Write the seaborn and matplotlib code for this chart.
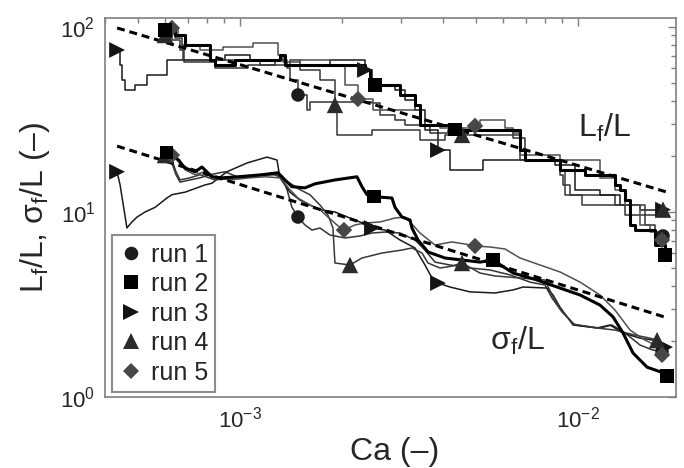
import numpy as np
import matplotlib
matplotlib.use("Agg")
import matplotlib.pyplot as plt
import seaborn as sns
from matplotlib.lines import Line2D
from matplotlib.ticker import LogLocator, LogFormatterSciNotation, NullFormatter

# ---------------------------------------------------------------------------
# Front length L_f/L (stepwise) versus capillary number, Ca values in units of 1e-3
# ---------------------------------------------------------------------------
run1_lf_ca = [0.608, 0.642, 0.674, 0.683, 0.844, 1.056, 1.269, 1.378, 1.406, 1.485,
              1.578, 1.611, 2.458, 2.596, 2.875, 3.078, 3.650, 4.126, 6.424, 6.972,
              8.850, 9.032, 9.474, 12.87, 13.78, 15.79, 16.91, 17.85]
run1_lf = [92.8, 87.2, 79.9, 64.7, 60.0, 62.3, 66.3, 60.0, 51.7, 42.9,
           35.6, 39.3, 38.8, 33.4, 31.4, 29.5, 26.7, 27.8, 25.1, 19.1,
           15.9, 14.0, 12.4, 10.9, 9.63, 8.51, 7.06, 7.42]

run2_lf_ca = [0.600, 0.642, 0.688, 0.815, 0.844, 0.967, 1.269, 1.313, 1.359, 2.265,
              2.344, 2.425, 2.509, 2.875, 2.975, 3.185, 3.295, 3.409, 4.327, 6.513,
              6.739, 6.972, 8.554, 8.850, 10.49, 12.87, 13.32, 13.78, 14.26, 14.75,
              15.79, 16.91, 18.10]
run2_lf = [96.3, 90.5, 79.9, 66.3, 62.3, 66.3, 66.3, 70.6, 62.3, 62.3,
           58.6, 51.7, 48.6, 48.6, 42.9, 42.9, 37.9, 29.5, 27.8, 27.8,
           21.6, 19.1, 19.1, 16.9, 15.9, 14.0, 13.2, 11.6, 8.51, 7.99,
           7.99, 6.63, 5.86]

run3_lf_ca = [0.433, 0.442, 0.448, 0.457, 0.489, 0.531, 0.608, 0.815, 0.903, 1.071,
              1.359, 1.846, 2.265, 2.344, 2.458, 2.875, 3.078, 3.295, 3.527, 3.854,
              4.182, 5.237, 8.554, 9.803, 11.62, 13.32, 15.26, 17.85]
run3_lf = [75.1, 62.3, 51.7, 45.7, 48.6, 55.0, 66.3, 66.3, 70.6, 66.3,
           62.3, 66.3, 66.3, 58.6, 48.6, 45.7, 40.3, 35.6, 27.8, 21.6,
           16.9, 19.1, 17.9, 13.2, 12.4, 10.9, 10.3, 10.3]

run4_lf_ca = [0.600, 0.629, 0.665, 0.678, 1.146, 1.406, 1.505, 1.725, 1.910, 1.936,
              2.458, 3.409, 4.042, 4.538, 6.739, 8.850, 9.157, 10.28, 15.79, 17.85]
run4_lf = [90.5, 85.1, 75.1, 66.3, 62.3, 66.3, 58.6, 51.7, 37.9, 26.1,
           27.8, 24.5, 26.1, 26.1, 19.1, 16.9, 12.4, 10.9, 9.63, 10.3]

run5_lf_ca = [0.629, 0.656, 0.692, 0.762, 0.891, 1.093, 1.296, 1.340, 1.505, 1.846,
              2.045, 2.234, 2.475, 3.409, 3.907, 4.959, 5.131, 6.084, 6.424, 6.739,
              8.850, 11.62, 12.87, 13.78, 15.26, 16.34, 17.73]
run5_lf = [98.8, 90.5, 79.9, 75.1, 78.0, 81.9, 70.6, 64.7, 66.3, 62.3,
           48.6, 40.8, 35.6, 29.2, 28.4, 29.2, 31.4, 28.4, 26.7, 20.3,
           19.1, 15.3, 13.2, 10.9, 8.51, 7.79, 7.06]

# ---------------------------------------------------------------------------
# Front width sigma_f/L versus capillary number, Ca values in units of 1e-3
# ---------------------------------------------------------------------------
run1_sf_ca = [0.608, 0.629, 0.647, 0.665, 0.711, 0.762, 0.815, 0.903, 1.000, 1.108,
              1.227, 1.331, 1.378, 1.425, 1.485, 1.557, 1.633, 1.725, 1.846, 2.045,
              2.265, 2.458, 2.686, 2.975, 3.295, 3.527, 3.776, 4.182, 4.793, 5.493,
              6.295, 7.214, 7.990, 8.380, 8.971, 9.803, 11.62, 12.61, 13.78, 15.26,
              16.56, 17.73]
run1_sf = [20.3, 18.4, 15.9, 14.5, 14.9, 15.3, 15.9, 16.5, 15.3, 15.7,
           16.1, 15.7, 13.2, 10.6, 9.39, 8.51, 7.99, 8.19, 7.51, 7.24,
           7.42, 7.70, 7.79, 7.70, 7.06, 6.23, 5.36, 5.17, 4.98, 4.86,
           4.57, 4.18, 4.03, 3.43, 2.88, 2.45, 2.36, 2.45, 2.22, 1.91,
           1.80, 1.76]

run2_sf_ca = [0.608, 0.629, 0.656, 0.688, 0.736, 0.772, 0.826, 0.885, 0.987, 1.162,
              1.296, 1.359, 1.425, 1.557, 1.667, 1.910, 2.219, 2.296, 2.376, 2.492,
              2.817, 2.875, 3.016, 3.185, 3.228, 3.363, 3.600, 4.042, 4.538, 5.131,
              5.606, 6.424, 7.566, 8.671, 10.14, 11.62, 12.70, 13.59, 14.55, 16.01,
              17.49, 18.35]
run2_sf = [20.9, 20.6, 19.1, 17.3, 16.5, 17.5, 15.5, 15.3, 15.5, 15.9,
           16.3, 14.9, 13.7, 13.5, 14.2, 14.9, 15.5, 13.7, 12.4, 12.1,
           11.9, 10.6, 9.39, 9.05, 8.19, 7.06, 6.08, 5.64, 5.50, 5.36,
           5.50, 4.68, 4.29, 3.93, 3.56, 3.14, 2.71, 2.22, 1.73, 1.45,
           1.37, 1.30]

run3_sf_ca = [0.433, 0.442, 0.454, 0.463, 0.479, 0.496, 0.524, 0.561, 0.608, 0.629,
              0.688, 0.721, 0.788, 0.826, 0.915, 1.049, 1.202, 1.287, 1.313, 1.406,
              1.505, 1.611, 1.725, 1.910, 2.116, 2.265, 2.458, 2.686, 2.975, 3.295,
              3.527, 3.700, 3.854, 4.182, 4.793, 5.683, 6.424, 6.877, 8.100, 8.437,
              8.850, 9.669, 11.39, 12.44, 13.59, 15.26, 16.68, 18.10]
run3_sf = [16.5, 14.0, 10.3, 8.20, 8.83, 9.39, 10.0, 10.6, 11.9, 12.4,
           12.8, 13.2, 14.0, 14.3, 16.5, 18.4, 19.8, 19.1, 15.3, 12.8,
           11.6, 10.9, 10.3, 10.0, 9.28, 8.83, 8.19, 7.99, 7.06, 6.39,
           5.17, 4.40, 4.13, 3.93, 3.70, 3.65, 3.79, 3.93, 3.88, 3.56,
           3.06, 2.45, 2.36, 2.45, 2.22, 2.08, 2.03, 1.86]

run4_sf_ca = [0.600, 0.629, 0.647, 0.665, 0.711, 0.762, 0.844, 0.967, 1.108, 1.269,
              1.359, 1.505, 1.611, 1.725, 1.821, 1.884, 1.910, 2.116, 2.296, 2.631,
              3.016, 3.228, 3.456, 3.600, 3.907, 4.239, 4.538, 5.131, 5.683, 6.739,
              7.990, 8.380, 8.850, 9.669, 11.39, 12.87, 14.75, 16.34, 17.14]
run4_sf = [20.3, 19.1, 16.5, 14.9, 15.3, 15.9, 14.9, 15.3, 15.7, 15.9,
           14.9, 13.2, 12.4, 10.9, 9.63, 8.20, 5.30, 5.17, 5.64, 6.00,
           6.23, 6.39, 6.00, 5.30, 4.98, 5.10, 5.30, 4.68, 4.51, 4.40,
           4.29, 3.56, 3.02, 2.48, 2.36, 2.30, 2.16, 2.08, 2.03]

run5_sf_ca = [0.629, 0.665, 0.688, 0.736, 0.788, 0.844, 0.934, 1.071, 1.186, 1.313,
              1.406, 1.485, 1.611, 1.725, 1.821, 1.936, 2.031, 2.189, 2.344, 2.596,
              2.875, 3.078, 3.185, 3.409, 3.776, 4.239, 4.633, 4.959, 5.493, 6.084,
              6.739, 7.722, 8.850, 10.14, 11.62, 12.87, 14.26, 15.79, 16.91, 17.73]
run5_sf = [20.3, 19.1, 16.9, 15.9, 16.5, 15.3, 14.9, 15.3, 15.5, 15.3,
           13.2, 11.9, 10.9, 10.3, 9.39, 8.51, 7.99, 8.51, 8.72, 8.83,
           9.28, 9.39, 8.83, 7.70, 6.63, 6.89, 6.71, 6.55, 6.47, 6.31,
           5.64, 5.17, 4.74, 4.18, 3.56, 2.95, 2.30, 2.03, 1.91, 1.69]

# samples that carry a run symbol
run1_lf_marks, run1_sf_marks = [0, 9, 27], [0, 14, 41]
run2_lf_marks, run2_sf_marks = [0, 12, 18, 32], [0, 19, 30, 41]
run3_lf_marks, run3_sf_marks = [0, 13, 19, 27], [0, 26, 32, 47]
run4_lf_marks, run4_sf_marks = [0, 8, 13, 19], [0, 17, 26, 38]
run5_lf_marks, run5_sf_marks = [0, 11, 15, 26], [0, 16, 27, 39]

# power-law fits (end points)
fit_ca = [0.433, 18.35]
fit_lf = [98.8, 12.8]
fit_sf = [22.7, 2.68]

run_labels = ["run 1", "run 2", "run 3", "run 4", "run 5"]

# ---------------------------------------------------------------------------
sns.set_style("white")
plt.rcParams["font.family"] = ["Liberation Sans", "DejaVu Sans"]
plt.rcParams["mathtext.fontset"] = "custom"
plt.rcParams["mathtext.rm"] = "Liberation Sans"
plt.rcParams["mathtext.it"] = "Liberation Sans:italic"
plt.rcParams["mathtext.default"] = "regular"

fig = plt.figure(figsize=(6.84, 4.68), dpi=100)
ax = fig.add_axes([0.1535, 0.1517, 0.8348, 0.8098])
ax.set_xscale("log")
ax.set_yscale("log")

ca_scale = 1e-3
runs = [
    dict(lf=(run1_lf_ca, run1_lf, run1_lf_marks), sf=(run1_sf_ca, run1_sf, run1_sf_marks),
         line="#333333", lw=1.1, marker="o", ms=95, mc="#1c1c1c"),
    dict(lf=(run2_lf_ca, run2_lf, run2_lf_marks), sf=(run2_sf_ca, run2_sf, run2_sf_marks),
         line="#000000", lw=2.2, marker="s", ms=90, mc="#000000"),
    dict(lf=(run3_lf_ca, run3_lf, run3_lf_marks), sf=(run3_sf_ca, run3_sf, run3_sf_marks),
         line="#1a1a1a", lw=1.1, marker=">", ms=130, mc="#141414"),
    dict(lf=(run4_lf_ca, run4_lf, run4_lf_marks), sf=(run4_sf_ca, run4_sf, run4_sf_marks),
         line="#383838", lw=1.1, marker="^", ms=140, mc="#2b2b2b"),
    dict(lf=(run5_lf_ca, run5_lf, run5_lf_marks), sf=(run5_sf_ca, run5_sf, run5_sf_marks),
         line="#505050", lw=1.1, marker="D", ms=70, mc="#474747"),
]

# thin runs first, thick run 2 on top of them
draw_order = [0, 2, 3, 4, 1]
for i in draw_order:
    r = runs[i]
    ca, val, _ = r["lf"]
    sns.lineplot(x=np.array(ca) * ca_scale, y=val, ax=ax, estimator=None, sort=False,
                 color=r["line"], linewidth=r["lw"], drawstyle="steps-post", zorder=2 + (i == 1))
    ca, val, _ = r["sf"]
    sns.lineplot(x=np.array(ca) * ca_scale, y=val, ax=ax, estimator=None, sort=False,
                 color=r["line"], linewidth=r["lw"], zorder=2 + (i == 1))

# fitted power laws
for fit in (fit_lf, fit_sf):
    sns.lineplot(x=np.array(fit_ca) * ca_scale, y=fit, ax=ax, estimator=None, sort=False,
                 color="black", linewidth=2.2, linestyle=(0, (2.6, 1.6)), zorder=4)

# run symbols
for i in draw_order:
    r = runs[i]
    for key in ("lf", "sf"):
        ca, val, marks = r[key]
        ca = np.array(ca) * ca_scale
        val = np.array(val)
        sns.scatterplot(x=ca[marks], y=val[marks], ax=ax, marker=r["marker"], s=r["ms"],
                        color=r["mc"], edgecolor="none", linewidth=0, legend=False, zorder=5)

ax.set_xlim(3.988e-4, 1.950e-2)
ax.set_ylim(1.0, 111.8)

ax.xaxis.set_major_locator(LogLocator(base=10))
ax.xaxis.set_minor_locator(LogLocator(base=10, subs=np.arange(2, 10)))
ax.xaxis.set_minor_formatter(NullFormatter())
ax.yaxis.set_major_locator(LogLocator(base=10))
ax.yaxis.set_minor_locator(LogLocator(base=10, subs=np.arange(2, 10)))
ax.yaxis.set_minor_formatter(NullFormatter())
ax.xaxis.set_major_formatter(LogFormatterSciNotation())
ax.yaxis.set_major_formatter(LogFormatterSciNotation())

ax.tick_params(which="both", direction="in", top=True, right=True, color="#7f7f7f",
               width=1.0, labelsize=16, pad=7)
ax.tick_params(which="major", length=6)
ax.tick_params(which="minor", length=3.5)
for sp in ax.spines.values():
    sp.set_color("#7f7f7f")
    sp.set_linewidth(1.2)

ax.set_xlabel("Ca (\u2013)", fontsize=23)
ax.set_ylabel("L$_\\mathregular{f}$/L, \u03c3$_\\mathregular{f}$/L (\u2013)", fontsize=23)
ax.xaxis.set_label_coords(0.508, -0.105)
ax.yaxis.set_label_coords(-0.092, 0.5)

ax.text(0.828, 0.686, "L$_\\mathregular{f}$/L", transform=ax.transAxes, fontsize=23,
        ha="left", va="baseline")
ax.text(0.674, 0.124, "\u03c3$_\\mathregular{f}$/L", transform=ax.transAxes, fontsize=23,
        ha="left", va="baseline")

handles = [Line2D([], [], linestyle="none", marker=r["marker"], color=r["mc"],
                  markersize=np.sqrt(r["ms"]), markeredgewidth=0) for r in runs]
leg = ax.legend(handles, run_labels, loc="lower left", bbox_to_anchor=(0.012, 0.013),
                borderaxespad=0, fontsize=18, frameon=True, fancybox=False, framealpha=1,
                edgecolor="#8c8c8c", borderpad=0.3, labelspacing=0.22, handletextpad=0.35,
                handlelength=0.9)
leg.get_frame().set_linewidth(1.5)
leg.set_zorder(10)

fig.savefig("out.png", dpi=100)
